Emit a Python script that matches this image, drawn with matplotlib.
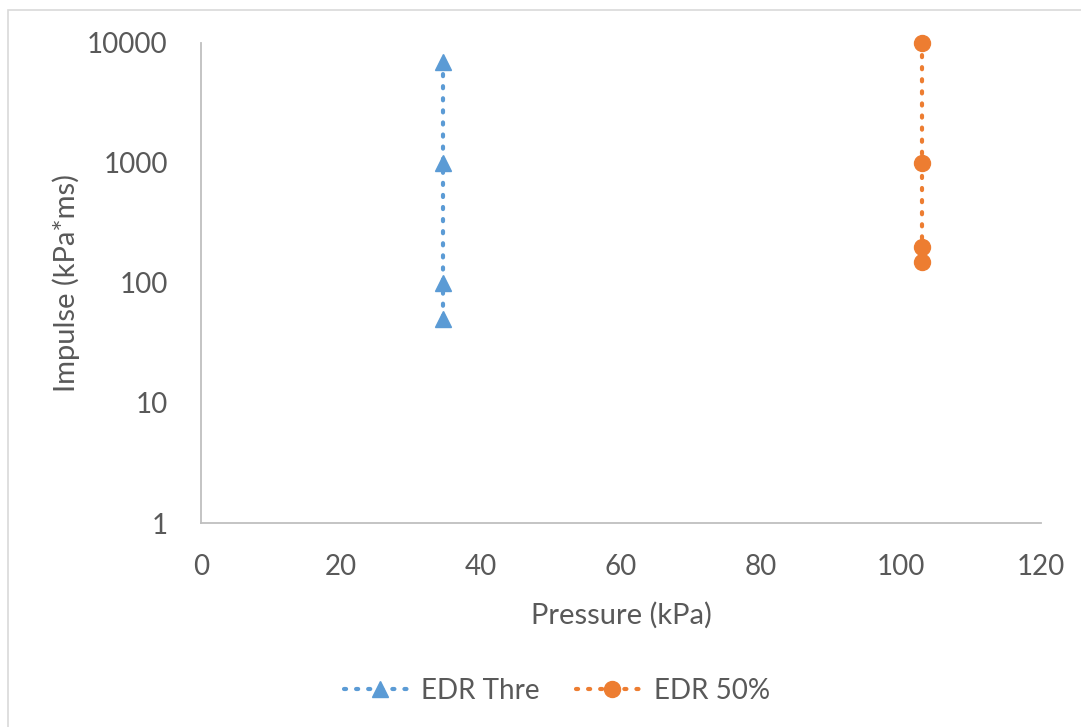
import matplotlib.pyplot as plt
from matplotlib.patches import Rectangle

# data
thre_pressure = [34.5, 34.5, 34.5, 34.5]
thre_impulse = [7000, 1000, 100, 50]
half_pressure = [103, 103, 103, 103]
half_impulse = [10000, 1000, 200, 150]

plt.rcParams['font.family'] = ['Lato', 'DejaVu Sans']
txt = '#595959'
axis_col = '#BFBFBF'

fig = plt.figure(figsize=(10.81, 7.27), dpi=100)
ax = fig.add_axes([0.186, 0.2806, 0.777, 0.6603])

dots = (0, (0.5, 2.4))
ax.plot(thre_pressure, thre_impulse, color='#5B9BD5', linestyle=dots,
        dash_capstyle='round', linewidth=3, marker='^', markersize=12,
        label='EDR Thre', clip_on=False)
ax.plot(half_pressure, half_impulse, color='#ED7D31', linestyle=dots,
        dash_capstyle='round', linewidth=3, marker='o', markersize=11.5,
        label='EDR 50%', clip_on=False)

ax.set_yscale('log')
ax.set_xlim(0, 120)
ax.set_ylim(1, 10000)
ax.set_xticks(range(0, 121, 20))
ax.set_yticks([1, 10, 100, 1000, 10000])
ax.set_yticklabels(['1', '10', '100', '1000', '10000'])
ax.minorticks_off()
ax.tick_params(length=0, labelsize=20, colors=txt)
ax.tick_params(axis='y', pad=24)
ax.tick_params(axis='x', pad=22)

for s in ['top', 'right']:
    ax.spines[s].set_visible(False)
for s in ['left', 'bottom']:
    ax.spines[s].set_color(axis_col)
    ax.spines[s].set_linewidth(1.3)

ax.set_xlabel('Pressure (kPa)', fontsize=21, color=txt, labelpad=16)
ax.set_ylabel('Impulse (kPa*ms)', fontsize=21, color=txt, labelpad=5)

leg = fig.legend(loc='center', bbox_to_anchor=(0.515, 0.05), ncol=2, frameon=False,
                 fontsize=20, handlelength=2.6, columnspacing=1.3, handletextpad=0.2)
for t in leg.get_texts():
    t.set_color(txt)

fig.patches.append(Rectangle((0.0075, -0.01), 1.0, 0.996, transform=fig.transFigure,
                             fill=False, edgecolor='#D9D9D9', linewidth=1.2))

fig.savefig('out.png', dpi=100)
